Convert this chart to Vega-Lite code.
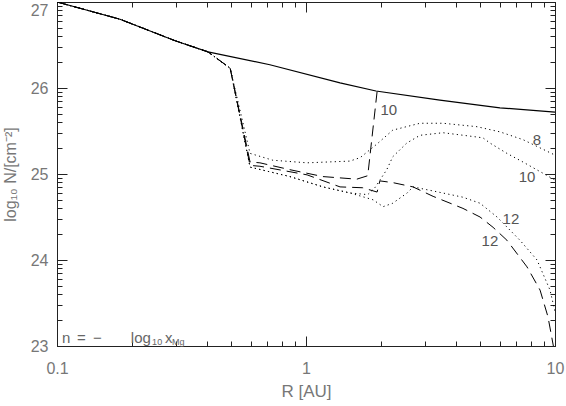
{
  "$schema": "https://vega.github.io/schema/vega-lite/v6.json",
  "width": 498,
  "height": 344,
  "autosize": "none",
  "padding": {"left": 57, "top": 2, "right": 11, "bottom": 60},
  "background": "white",
  "config": {
    "view": {"stroke": "#222", "strokeWidth": 1},
    "font": "Liberation Sans"
  },
  "datasets": {
    "curves": [
      {"series": "total", "R": 0.1, "N": 27.0},
      {"series": "total", "R": 0.179, "N": 26.80},
      {"series": "total", "R": 0.298, "N": 26.55},
      {"series": "total", "R": 0.404, "N": 26.42},
      {"series": "total", "R": 0.716, "N": 26.27},
      {"series": "total", "R": 1.37, "N": 26.06},
      {"series": "total", "R": 1.91, "N": 25.965},
      {"series": "total", "R": 3.45, "N": 25.86},
      {"series": "total", "R": 6.01, "N": 25.77},
      {"series": "total", "R": 10, "N": 25.72},

      {"series": "d10", "R": 0.1, "N": 27.0},
      {"series": "d10", "R": 0.179, "N": 26.80},
      {"series": "d10", "R": 0.298, "N": 26.55},
      {"series": "d10", "R": 0.404, "N": 26.42},
      {"series": "d10", "R": 0.496, "N": 26.23},
      {"series": "d10", "R": 0.596, "N": 25.14},
      {"series": "d10", "R": 0.653, "N": 25.13},
      {"series": "d10", "R": 0.862, "N": 25.05},
      {"series": "d10", "R": 1.17, "N": 24.97},
      {"series": "d10", "R": 1.60, "N": 24.94},
      {"series": "d10", "R": 1.77, "N": 24.98},
      {"series": "d10", "R": 1.93, "N": 25.96},

      {"series": "d12", "R": 0.1, "N": 27.0},
      {"series": "d12", "R": 0.179, "N": 26.80},
      {"series": "d12", "R": 0.298, "N": 26.55},
      {"series": "d12", "R": 0.404, "N": 26.42},
      {"series": "d12", "R": 0.496, "N": 26.23},
      {"series": "d12", "R": 0.596, "N": 25.10},
      {"series": "d12", "R": 0.653, "N": 25.09},
      {"series": "d12", "R": 1.01, "N": 24.99},
      {"series": "d12", "R": 1.37, "N": 24.85},
      {"series": "d12", "R": 1.69, "N": 24.84},
      {"series": "d12", "R": 1.93, "N": 24.79},
      {"series": "d12", "R": 1.98, "N": 24.92},
      {"series": "d12", "R": 2.23, "N": 24.90},
      {"series": "d12", "R": 2.69, "N": 24.85},
      {"series": "d12", "R": 3.24, "N": 24.74},
      {"series": "d12", "R": 4.27, "N": 24.60},
      {"series": "d12", "R": 5.00, "N": 24.50},
      {"series": "d12", "R": 5.64, "N": 24.38},
      {"series": "d12", "R": 6.41, "N": 24.23},
      {"series": "d12", "R": 7.72, "N": 23.92},
      {"series": "d12", "R": 8.71, "N": 23.65},
      {"series": "d12", "R": 9.37, "N": 23.34},
      {"series": "d12", "R": 9.85, "N": 23.0},

      {"series": "o8", "R": 0.1, "N": 27.0},
      {"series": "o8", "R": 0.179, "N": 26.80},
      {"series": "o8", "R": 0.298, "N": 26.55},
      {"series": "o8", "R": 0.404, "N": 26.42},
      {"series": "o8", "R": 0.496, "N": 26.23},
      {"series": "o8", "R": 0.596, "N": 25.24},
      {"series": "o8", "R": 0.736, "N": 25.16},
      {"series": "o8", "R": 1.01, "N": 25.13},
      {"series": "o8", "R": 1.50, "N": 25.15},
      {"series": "o8", "R": 1.65, "N": 25.19},
      {"series": "o8", "R": 1.93, "N": 25.35},
      {"series": "o8", "R": 2.23, "N": 25.51},
      {"series": "o8", "R": 2.87, "N": 25.59},
      {"series": "o8", "R": 3.55, "N": 25.59},
      {"series": "o8", "R": 4.86, "N": 25.55},
      {"series": "o8", "R": 6.01, "N": 25.49},
      {"series": "o8", "R": 7.43, "N": 25.40},
      {"series": "o8", "R": 10, "N": 25.22},

      {"series": "o10", "R": 0.1, "N": 27.0},
      {"series": "o10", "R": 0.179, "N": 26.80},
      {"series": "o10", "R": 0.298, "N": 26.55},
      {"series": "o10", "R": 0.404, "N": 26.42},
      {"series": "o10", "R": 0.496, "N": 26.23},
      {"series": "o10", "R": 0.596, "N": 25.08},
      {"series": "o10", "R": 0.862, "N": 24.97},
      {"series": "o10", "R": 1.17, "N": 24.85},
      {"series": "o10", "R": 1.50, "N": 24.78},
      {"series": "o10", "R": 1.77, "N": 24.76},
      {"series": "o10", "R": 1.89, "N": 24.84},
      {"series": "o10", "R": 2.11, "N": 25.05},
      {"series": "o10", "R": 2.23, "N": 25.20},
      {"series": "o10", "R": 2.54, "N": 25.36},
      {"series": "o10", "R": 2.87, "N": 25.45},
      {"series": "o10", "R": 3.55, "N": 25.48},
      {"series": "o10", "R": 4.86, "N": 25.43},
      {"series": "o10", "R": 5.14, "N": 25.42},
      {"series": "o10", "R": 5.48, "N": 25.36},
      {"series": "o10", "R": 6.41, "N": 25.24},
      {"series": "o10", "R": 7.43, "N": 25.14},
      {"series": "o10", "R": 10, "N": 24.93},

      {"series": "o12", "R": 0.1, "N": 27.0},
      {"series": "o12", "R": 0.179, "N": 26.80},
      {"series": "o12", "R": 0.298, "N": 26.55},
      {"series": "o12", "R": 0.404, "N": 26.42},
      {"series": "o12", "R": 0.496, "N": 26.23},
      {"series": "o12", "R": 0.596, "N": 25.08},
      {"series": "o12", "R": 0.862, "N": 24.97},
      {"series": "o12", "R": 1.17, "N": 24.85},
      {"series": "o12", "R": 1.50, "N": 24.78},
      {"series": "o12", "R": 1.86, "N": 24.70},
      {"series": "o12", "R": 2.04, "N": 24.62},
      {"series": "o12", "R": 2.23, "N": 24.66},
      {"series": "o12", "R": 2.55, "N": 24.78},
      {"series": "o12", "R": 2.69, "N": 24.85},
      {"series": "o12", "R": 3.15, "N": 24.81},
      {"series": "o12", "R": 4.27, "N": 24.73},
      {"series": "o12", "R": 5.00, "N": 24.66},
      {"series": "o12", "R": 5.85, "N": 24.50},
      {"series": "o12", "R": 7.23, "N": 24.23},
      {"series": "o12", "R": 8.47, "N": 24.00},
      {"series": "o12", "R": 9.55, "N": 23.65},
      {"series": "o12", "R": 10, "N": 23.40}
    ],
    "labels": [
      {"t": "10", "R": 2.15, "N": 25.74},
      {"t": "8", "R": 8.47, "N": 25.395},
      {"t": "10", "R": 7.72, "N": 24.96},
      {"t": "12", "R": 6.65, "N": 24.48},
      {"t": "12", "R": 5.48, "N": 24.22}
    ],
    "note": [
      {"t": "n", "R": 0.1047, "N": 23.03, "kind": "main"},
      {"t": "=", "R": 0.1203, "N": 23.03, "kind": "main"},
      {"t": "−", "R": 0.1395, "N": 23.03, "kind": "main"},
      {"t": "log", "R": 0.198, "N": 23.03, "kind": "main"},
      {"t": "10", "R": 0.241, "N": 23.01, "kind": "sub"},
      {"t": "x", "R": 0.2716, "N": 23.03, "kind": "main"},
      {"t": "Mg", "R": 0.2896, "N": 23.01, "kind": "sub"}
    ]
  },
  "layer": [
    {
      "data": {"name": "curves"},
      "transform": [{"filter": "datum.series == 'total'"}],
      "mark": {"type": "line", "color": "black", "strokeWidth": 1.2, "clip": true},
      "encoding": {
        "x": {
          "field": "R", "type": "quantitative",
          "scale": {"type": "log", "domain": [0.1, 10], "nice": false},
          "axis": {
            "title": "R [AU]",
            "titleFontSize": 17, "titleFontWeight": "normal", "titleColor": "#777", "titlePadding": 2,
            "values": [0.1, 0.2, 0.3, 0.4, 0.5, 0.6, 0.7, 0.8, 0.9, 1, 2, 3, 4, 5, 6, 7, 8, 9, 10],
            "labelExpr": "datum.value == 0.1 ? '0.1' : (datum.value == 1 ? '1' : (datum.value == 10 ? '10' : ''))",
            "labelFontSize": 16, "labelColor": "#777", "labelOverlap": false, "labelPadding": 24, "labelFlush": false,
            "tickSize": {"condition": {"test": "datum.value == 0.1 || datum.value == 1 || datum.value == 10", "value": -10}, "value": -5},
            "tickColor": "#222", "domainColor": "#222", "grid": false
          }
        },
        "y": {
          "field": "N", "type": "quantitative",
          "scale": {"domain": [23, 27], "nice": false, "zero": false},
          "axis": {
            "title": "log₁₀ N/[cm⁻²]",
            "titleFontSize": 16, "titleFontWeight": "normal", "titleColor": "#777", "titlePadding": 12,
            "values": [23, 23.30103, 23.47712, 23.60206, 23.69897, 23.77815, 23.8451, 23.90309, 23.95424,
                       24, 24.30103, 24.47712, 24.60206, 24.69897, 24.77815, 24.8451, 24.90309, 24.95424,
                       25, 25.30103, 25.47712, 25.60206, 25.69897, 25.77815, 25.8451, 25.90309, 25.95424,
                       26, 26.30103, 26.47712, 26.60206, 26.69897, 26.77815, 26.8451, 26.90309, 26.95424, 27],
            "labelExpr": "datum.value == round(datum.value) ? format(datum.value, 'd') : ''",
            "labelFontSize": 16, "labelColor": "#777", "labelOverlap": false, "labelPadding": 19, "labelFlush": false,
            "labelBaseline": {"condition": {"test": "datum.value == 27", "value": "top"}, "value": "middle"},
            "tickSize": {"condition": {"test": "datum.value == round(datum.value)", "value": -10}, "value": -5},
            "tickColor": "#222", "domainColor": "#222", "grid": false
          }
        }
      }
    },
    {
      "data": {"name": "curves"},
      "transform": [{"filter": "datum.series == 'd10' || datum.series == 'd12'"}],
      "mark": {"type": "line", "color": "black", "strokeWidth": 1, "strokeDash": [11, 6], "clip": true},
      "encoding": {
        "x": {
          "field": "R", "type": "quantitative",
          "scale": {"type": "log", "domain": [0.1, 10], "nice": false},
          "axis": {
            "orient": "top", "title": null, "labels": false,
            "values": [0.1, 0.2, 0.3, 0.4, 0.5, 0.6, 0.7, 0.8, 0.9, 1, 2, 3, 4, 5, 6, 7, 8, 9, 10],
            "tickSize": {"condition": {"test": "datum.value == 0.1 || datum.value == 1 || datum.value == 10", "value": -10}, "value": -5},
            "tickColor": "#222", "domainColor": "#222", "grid": false
          }
        },
        "y": {
          "field": "N", "type": "quantitative",
          "scale": {"domain": [23, 27], "nice": false, "zero": false},
          "axis": {
            "orient": "right", "title": null, "labels": false,
            "values": [23, 23.30103, 23.47712, 23.60206, 23.69897, 23.77815, 23.8451, 23.90309, 23.95424,
                       24, 24.30103, 24.47712, 24.60206, 24.69897, 24.77815, 24.8451, 24.90309, 24.95424,
                       25, 25.30103, 25.47712, 25.60206, 25.69897, 25.77815, 25.8451, 25.90309, 25.95424,
                       26, 26.30103, 26.47712, 26.60206, 26.69897, 26.77815, 26.8451, 26.90309, 26.95424, 27],
            "tickSize": {"condition": {"test": "datum.value == round(datum.value)", "value": -10}, "value": -5},
            "tickColor": "#222", "domainColor": "#222", "grid": false
          }
        },
        "detail": {"field": "series"}
      }
    },
    {
      "data": {"name": "curves"},
      "transform": [{"filter": "datum.series == 'o8' || datum.series == 'o10' || datum.series == 'o12'"}],
      "mark": {"type": "line", "color": "black", "strokeWidth": 1, "strokeDash": [1.2, 3.3], "clip": true},
      "encoding": {
        "x": {"field": "R", "type": "quantitative", "scale": {"type": "log", "domain": [0.1, 10], "nice": false}, "axis": null},
        "y": {"field": "N", "type": "quantitative", "scale": {"domain": [23, 27], "nice": false, "zero": false}, "axis": null},
        "detail": {"field": "series"}
      }
    },
    {
      "data": {"name": "labels"},
      "mark": {"type": "text", "fontSize": 15, "color": "#555", "align": "center", "baseline": "middle"},
      "encoding": {
        "x": {"field": "R", "type": "quantitative", "axis": null},
        "y": {"field": "N", "type": "quantitative", "axis": null},
        "text": {"field": "t"}
      }
    },
    {
      "data": {"name": "note"},
      "transform": [{"filter": "datum.kind == 'main'"}],
      "mark": {"type": "text", "fontSize": 15, "color": "#666", "align": "left", "baseline": "alphabetic"},
      "encoding": {
        "x": {"field": "R", "type": "quantitative", "axis": null},
        "y": {"field": "N", "type": "quantitative", "axis": null},
        "text": {"field": "t"}
      }
    },
    {
      "data": {"name": "note"},
      "transform": [{"filter": "datum.kind == 'sub'"}],
      "mark": {"type": "text", "fontSize": 9, "color": "#666", "align": "left", "baseline": "alphabetic"},
      "encoding": {
        "x": {"field": "R", "type": "quantitative", "axis": null},
        "y": {"field": "N", "type": "quantitative", "axis": null},
        "text": {"field": "t"}
      }
    }
  ],
  "resolve": {"axis": {"x": "independent", "y": "independent"}}
}
